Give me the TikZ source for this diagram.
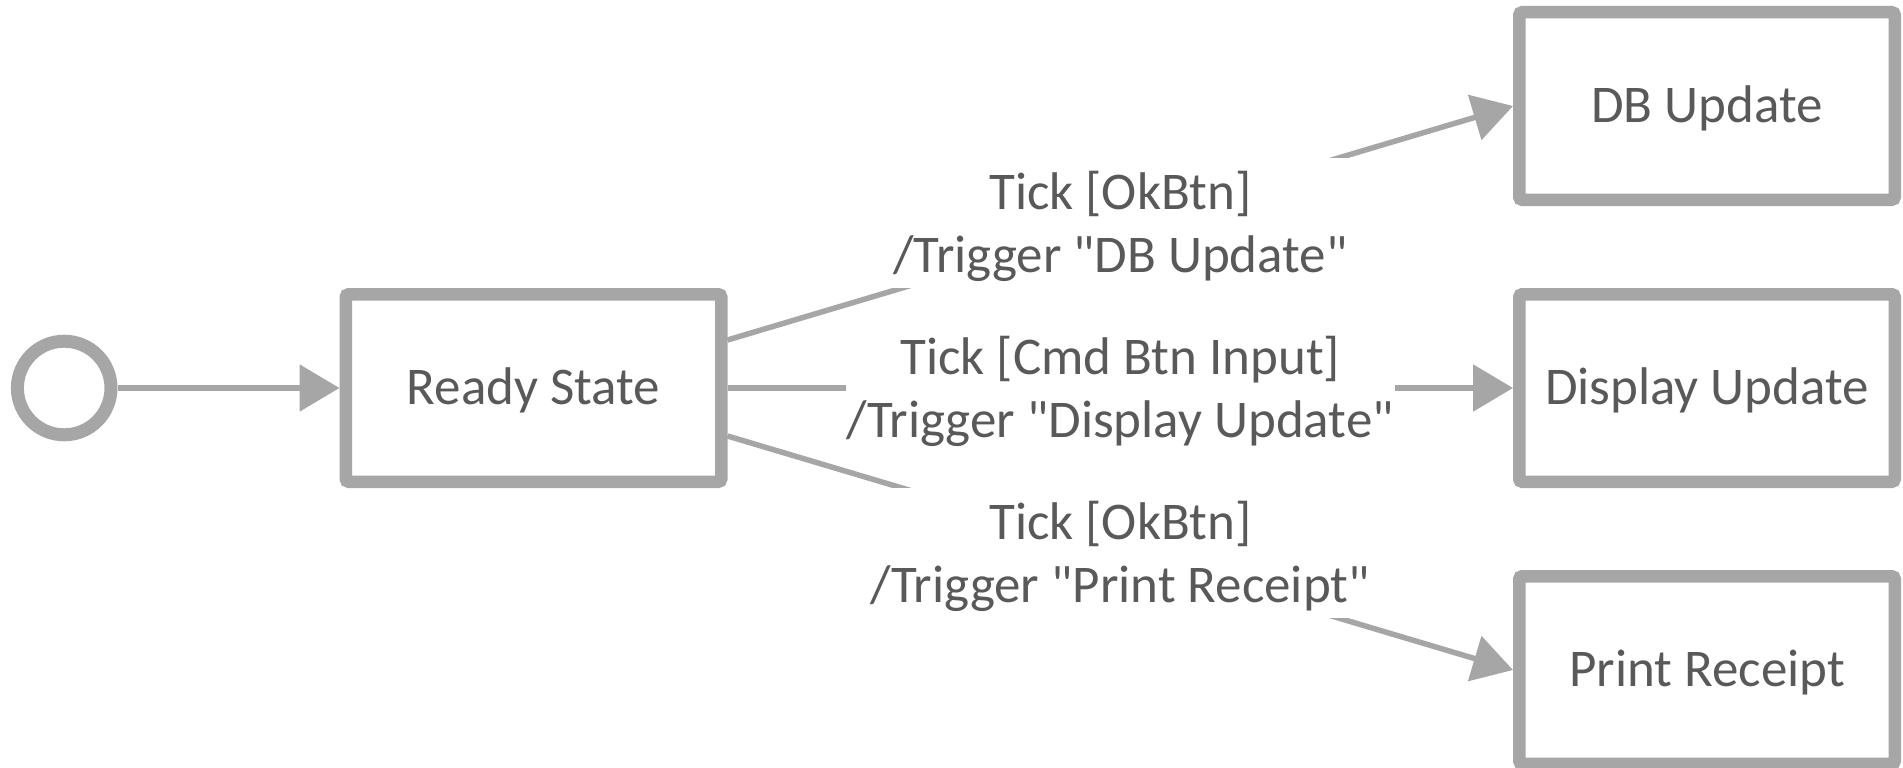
\documentclass[tikz,border=0pt]{standalone}
\usepackage{fontspec}
\setmainfont{Carlito}[Ligatures=TeXOff]
\usetikzlibrary{arrows.meta}
\definecolor{linegray}{HTML}{A6A6A6}
\definecolor{textgray}{HTML}{595959}
\begin{document}
\begin{tikzpicture}[x=1pt,y=-1pt,
  state/.style={draw=linegray, line width=12.5pt, rounded corners=3pt,
    minimum width=375.5pt, minimum height=187.5pt, inner sep=0pt, text depth=3pt,
    text=textgray, fill=white, font=\fontsize{53pt}{63pt}\selectfont},
  initial/.style={circle, draw=linegray, line width=13pt, minimum size=93.6pt, inner sep=0pt},
  conn/.style={draw=linegray, line width=5.5pt, -{Triangle[length=40pt,width=46pt]}},
  lbl/.style={fill=white, text=textgray, align=center, inner xsep=1pt, inner ysep=12.5pt,
    text depth=3pt, font=\fontsize{53pt}{63pt}\selectfont}]
\useasboundingbox[fill=white] (0,0) rectangle (1903,768);
\node[initial] (init) at (64.2,388) {};
\node[state] (rs) at (533.5,388) {Ready State};
\node[state] (db) at (1707,106) {DB Update};
\node[state] (du) at (1707,388) {Display Update};
\node[state] (pr) at (1707,670) {Print Receipt};
\draw[conn] (init) -- (rs);
\draw[conn] ([yshift=48pt]rs.east) -- node[lbl]{Tick [OkBtn]\\/Trigger "DB Update"} (db.west);
\draw[conn] (rs.east) -- node[lbl]{Tick [Cmd Btn Input]\\/Trigger "Display Update"} (du.west);
\draw[conn] ([yshift=-48pt]rs.east) -- node[lbl]{Tick [OkBtn]\\/Trigger "Print Receipt"} (pr.west);
\end{tikzpicture}
\end{document}
